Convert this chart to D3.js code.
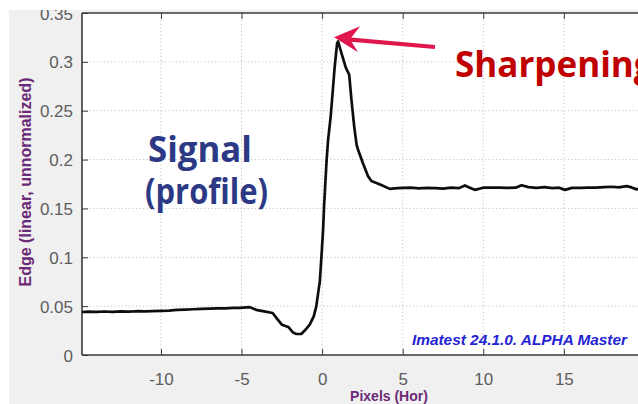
<!DOCTYPE html>
<html>
<head>
<meta charset="utf-8">
<script src="https://cdn.jsdelivr.net/npm/d3@7"></script>
<style>
  html, body { margin: 0; padding: 0; background: #fff; }
  svg { display: block; }
</style>
</head>
<body>
<svg id="chart" width="638" height="404"></svg>
<script>
// Edge profile (signal) across the edge, in pixels
const profileX = [
  -14.9, -14.5, -14, -13.5, -13, -12.5, -12, -11.5, -11, -10.5, -10, -9.5, -9, -8.5, -8,
  -7.5, -7, -6.5, -6, -5.5, -5.1, -4.5, -4.1, -3.6, -3.07, -2.74, -2.5, -2.1, -1.8, -1.6,
  -1.29, -1.08, -0.77, -0.52, -0.36, -0.19, -0.15, -0.04, 0.06, 0.12, 0.2, 0.28, 0.37,
  0.53, 0.62, 0.78, 0.93, 0.99, 1.2, 1.47, 1.68, 1.82, 1.99, 2.14, 2.23, 2.54, 2.85,
  3.06, 3.37, 3.6, 4.2, 4.5, 5, 5.5, 6, 6.5, 7, 7.5, 8, 8.5, 8.86, 9.2, 9.48, 10, 10.5,
  11, 11.5, 12, 12.38, 12.8, 13.3, 13.8, 14.3, 14.7, 15.07, 15.5, 16, 16.5, 17, 17.5,
  18, 18.4, 18.9, 19.2, 19.52, 20, 20.5
];
const profileY = [
  0.0440, 0.0443, 0.0442, 0.0445, 0.0441, 0.0446, 0.0443, 0.0448, 0.0446, 0.0450, 0.0452, 0.0455, 0.0462, 0.0465, 0.0468,
  0.0472, 0.0475, 0.0478, 0.0478, 0.0482, 0.0482, 0.0490, 0.0462, 0.0446, 0.0430, 0.0360, 0.0310, 0.0287, 0.0230, 0.0215,
  0.0215, 0.0250, 0.0310, 0.0395, 0.0500, 0.0700, 0.0737, 0.1010, 0.1280, 0.1520, 0.1760, 0.2000, 0.2200,
  0.2440, 0.2620, 0.2950, 0.3190, 0.3210, 0.3090, 0.2940, 0.2870, 0.2610, 0.2340, 0.2150, 0.2100, 0.1960, 0.1830,
  0.1780, 0.1760, 0.1745, 0.1700, 0.1705, 0.1710, 0.1712, 0.1705, 0.1710, 0.1708, 0.1702, 0.1712, 0.1708, 0.1735, 0.1710, 0.1690, 0.1712, 0.1712,
  0.1712, 0.1710, 0.1712, 0.1738, 0.1718, 0.1710, 0.1718, 0.1708, 0.1712, 0.1690, 0.1710, 0.1710, 0.1712, 0.1712, 0.1718,
  0.1722, 0.1715, 0.1728, 0.1715, 0.1695, 0.1710, 0.1710
];

const xTicks = [-10, -5, 0, 5, 10, 15];
const yTicks = [0, 0.05, 0.1, 0.15, 0.2, 0.25, 0.3, 0.35];
const xDomain = [-14.9, 23.2];
const yDomain = [0, 0.35];

const xLabel = "Pixels (Hor)";
const yLabel = "Edge (linear, unnormalized)";
const stamp = "Imatest 24.1.0. ALPHA Master";
const signalLines = ["Signal", "(profile)"];
const sharpenLabel = "Sharpening";

const svg = d3.select("#chart");
const W = 638, H = 404;
const plot = { left: 82, right: 696, top: 13, bottom: 355 };

const x = d3.scaleLinear().domain(xDomain).range([plot.left, plot.right]);
const y = d3.scaleLinear().domain(yDomain).range([plot.bottom, plot.top]);

// figure panel
const defs = svg.append("defs");
defs.append("clipPath").attr("id", "panelClip")
  .append("rect").attr("x", 9).attr("y", 10).attr("width", W - 9).attr("height", H - 10);
defs.append("clipPath").attr("id", "plotClip")
  .append("rect").attr("x", plot.left).attr("y", plot.top)
  .attr("width", plot.right - plot.left).attr("height", plot.bottom - plot.top);
defs.append("filter").attr("id", "soft")
  .append("feGaussianBlur").attr("stdDeviation", 0.45);

const panel = svg.append("g").attr("clip-path", "url(#panelClip)");
panel.append("rect").attr("x", 0).attr("y", 0).attr("width", W).attr("height", H).attr("fill", "#f0f0f0");
panel.append("rect")
  .attr("x", plot.left).attr("y", plot.top)
  .attr("width", plot.right - plot.left).attr("height", plot.bottom - plot.top)
  .attr("fill", "#fff");

// grid
const grid = panel.append("g").attr("clip-path", "url(#plotClip)")
  .attr("stroke", "#c4c4c4").attr("stroke-width", 1).attr("stroke-dasharray", "1.2,2.4");
grid.selectAll("line.gx").data(xTicks).join("line")
  .attr("x1", d => x(d)).attr("x2", d => x(d))
  .attr("y1", plot.top).attr("y2", plot.bottom);
grid.selectAll("line.gy").data(yTicks.slice(1, -1)).join("line")
  .attr("y1", d => y(d)).attr("y2", d => y(d))
  .attr("x1", plot.left).attr("x2", plot.right);

// axes (ticks pointing inward)
const tickFont = "'Liberation Sans', Arial, Helvetica, sans-serif";
const axisColor = "#3a3a3a";

const gx = panel.append("g").attr("transform", `translate(0,${plot.bottom})`)
  .call(d3.axisTop(x).tickValues(xTicks).tickSize(6).tickFormat(""));
const gxLab = panel.append("g").attr("transform", `translate(0,${plot.bottom})`)
  .call(d3.axisBottom(x).tickValues(xTicks).tickSize(0).tickPadding(18).tickFormat(d => String(d)));
const gxTop = panel.append("g").attr("transform", `translate(0,${plot.top})`)
  .call(d3.axisBottom(x).tickValues(xTicks).tickSize(6).tickFormat(""));
const gy = panel.append("g").attr("transform", `translate(${plot.left},0)`)
  .call(d3.axisRight(y).tickValues(yTicks).tickSize(6).tickFormat(""));
const gyLab = panel.append("g").attr("transform", `translate(${plot.left},0)`)
  .call(d3.axisLeft(y).tickValues(yTicks).tickSize(0).tickPadding(9).tickFormat(d => String(d)));

[gx, gxTop, gy, gxLab, gyLab].forEach(g => {
  g.selectAll(".domain").attr("stroke", axisColor).attr("stroke-width", 1.6);
  g.selectAll(".tick line").attr("stroke", axisColor).attr("stroke-width", 1);
  g.selectAll("text").attr("font-family", tickFont).attr("font-size", 17).attr("fill", "#5c5c5c");
});
gy.select(".domain").remove();
gx.select(".domain").remove();
gxTop.select(".domain").attr("d", `M${plot.left},0H${plot.right}`);
gxLab.select(".domain").attr("d", `M${plot.left},0H${plot.right}`);
gyLab.select(".domain").attr("d", `M0,${plot.top}V${plot.bottom}`);
gyLab.selectAll("text").attr("dy", "0.36em");

// axis titles
panel.append("text")
  .attr("x", 389).attr("y", 401)
  .attr("text-anchor", "middle")
  .attr("font-family", tickFont).attr("font-weight", "bold").attr("font-size", 14)
  .attr("fill", "#6b2a77").text(xLabel);
panel.append("text")
  .attr("transform", "translate(31,182) rotate(-90)")
  .attr("text-anchor", "middle")
  .attr("font-family", tickFont).attr("font-weight", "bold").attr("font-size", 16)
  .attr("fill", "#6b2a77").text(yLabel);

// profile line
const line = d3.line().x(d => x(d[0])).y(d => y(d[1]));
panel.append("g").attr("clip-path", "url(#plotClip)")
  .append("path")
  .datum(d3.zip(profileX, profileY))
  .attr("d", line)
  .attr("fill", "none").attr("stroke", "#111").attr("stroke-width", 2.7)
  .attr("stroke-linejoin", "round")
  .attr("filter", "url(#soft)");

// version stamp
panel.append("text")
  .attr("x", 412).attr("y", 345)
  .attr("font-family", tickFont).attr("font-weight", "bold").attr("font-style", "italic")
  .attr("font-size", 15).attr("fill", "#2424d4")
  .attr("textLength", 215).attr("lengthAdjust", "spacingAndGlyphs")
  .text(stamp);

// annotations
const annoFont = "'Open Sans', 'Noto Sans', sans-serif";
svg.append("text").attr("x", 148).attr("y", 162)
  .attr("font-family", annoFont).attr("font-weight", "bold").attr("font-size", 35)
  .attr("fill", "#2c3a86")
  .attr("textLength", 104).attr("lengthAdjust", "spacingAndGlyphs")
  .text(signalLines[0]);
svg.append("text").attr("x", 145).attr("y", 204)
  .attr("font-family", annoFont).attr("font-weight", "bold").attr("font-size", 35)
  .attr("fill", "#2c3a86")
  .attr("textLength", 123).attr("lengthAdjust", "spacingAndGlyphs")
  .text(signalLines[1]);
svg.append("text").attr("x", 455).attr("y", 77)
  .attr("font-family", annoFont).attr("font-weight", "bold").attr("font-size", 35)
  .attr("fill", "#c00000")
  .text(sharpenLabel);

// arrow pointing at the overshoot peak
const peakIdx = d3.maxIndex(profileY);
const tip = [x(profileX[peakIdx]) - 4, y(profileY[peakIdx]) - 4];
const arrowColor = "#e0174c";
svg.append("line")
  .attr("x1", 435).attr("y1", 47).attr("x2", tip[0] + 14).attr("y2", tip[1] + 2)
  .attr("stroke", arrowColor).attr("stroke-width", 4.2);
svg.append("path")
  .attr("d", `M${tip[0]},${tip[1]} L${tip[0] + 26},${tip[1] - 11} L${tip[0] + 16},${tip[1] + 2} L${tip[0] + 24},${tip[1] + 15} Z`)
  .attr("fill", arrowColor);
</script>
</body>
</html>
